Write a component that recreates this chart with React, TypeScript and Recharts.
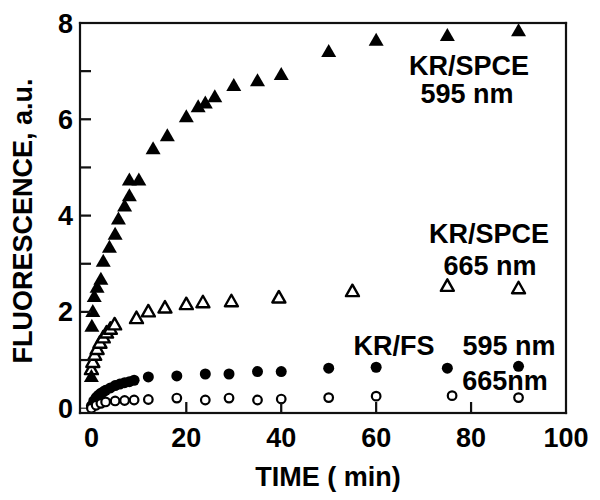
import React from 'react';
import { ScatterChart, Scatter, XAxis, YAxis } from 'recharts';

// KR/SPCE 595 nm (filled triangles)
const spce595Time = [0, 0.1, 0.3, 0.6, 1.2, 2, 2.5, 3.8, 5, 5.7, 7, 8, 8, 10, 13, 16, 20, 22.5, 24, 26, 30, 35, 40, 50, 60, 75, 90];
const spce595Fl = [0.65, 1.69, 2.0, 2.31, 2.5, 2.67, 3.04, 3.33, 3.6, 3.92, 4.19, 4.4, 4.73, 4.73, 5.38, 5.65, 6.04, 6.25, 6.33, 6.46, 6.69, 6.79, 6.92, 7.4, 7.63, 7.73, 7.83];

// KR/SPCE 665 nm (open triangles)
const spce665Time = [0, 0.3, 0.7, 1.2, 1.8, 2.5, 3.2, 4, 4.9, 9.5, 12, 15.5, 20, 23.5, 29.5, 39.5, 55, 75, 90];
const spce665Fl = [0.8, 0.95, 1.1, 1.22, 1.35, 1.46, 1.56, 1.64, 1.73, 1.86, 2.0, 2.08, 2.15, 2.19, 2.21, 2.29, 2.42, 2.53, 2.48];

// KR/FS 595 nm (filled circles)
const fs595Time = [0, 0.5, 1, 1.5, 2, 2.5, 3, 4, 5, 6, 7, 8, 9, 12, 18, 24, 29, 35, 40, 50, 60, 75, 90];
const fs595Fl = [0.05, 0.15, 0.22, 0.27, 0.31, 0.34, 0.37, 0.42, 0.47, 0.5, 0.53, 0.55, 0.58, 0.65, 0.67, 0.71, 0.71, 0.76, 0.76, 0.83, 0.85, 0.83, 0.87];

// KR/FS 665 nm (open circles)
const fs665Time = [0, 1, 2, 3, 5, 7, 9, 12, 18, 24, 29, 35, 40, 50, 60, 76, 90];
const fs665Fl = [0, 0.06, 0.1, 0.13, 0.15, 0.16, 0.17, 0.18, 0.21, 0.17, 0.21, 0.17, 0.19, 0.22, 0.25, 0.26, 0.22];

const xTicks = [0, 20, 40, 60, 80, 100];
const yTicks = [0, 1, 2, 3, 4, 5, 6, 7, 8];
const xDomain = [-2.4, 100];
const yDomain = [-0.1, 8];

const zip = (t: number[], f: number[]) => t.map((v, i) => ({ t: v, f: f[i] }));

const FONT = "'Liberation Sans', Arial, sans-serif";
const FS = 27;
const W = 600;
const H = 500;
const MARGIN = { top: 23, right: 34, bottom: 27, left: 0 };
const Y_AXIS_W = 80;
const X_AXIS_H = 60;
const LW = 2.2;

// plot box, same as what recharts lays out from the margins/axis sizes above
const plot = {
  left: MARGIN.left + Y_AXIS_W,
  top: MARGIN.top,
  width: W - MARGIN.left - MARGIN.right - Y_AXIS_W,
  height: H - MARGIN.top - MARGIN.bottom - X_AXIS_H,
};
const sx = (v: number) => plot.left + ((v - xDomain[0]) / (xDomain[1] - xDomain[0])) * plot.width;
const sy = (v: number) => plot.top + ((yDomain[1] - v) / (yDomain[1] - yDomain[0])) * plot.height;

const FilledTri = (p: any) => (
  <polygon points={`${p.cx},${p.cy - 8} ${p.cx - 7.5},${p.cy + 5} ${p.cx + 7.5},${p.cy + 5}`} fill="#000" />
);
const OpenTri = (p: any) => (
  <polygon points={`${p.cx},${p.cy - 7} ${p.cx - 6.5},${p.cy + 4.5} ${p.cx + 6.5},${p.cy + 4.5}`} fill="#fff" stroke="#000" strokeWidth={2.4} strokeLinejoin="round" />
);
const FilledDot = (p: any) => <circle cx={p.cx} cy={p.cy} r={5.5} fill="#000" />;
const OpenDot = (p: any) => <circle cx={p.cx} cy={p.cy} r={4.3} fill="#fff" stroke="#000" strokeWidth={2.2} />;

const tickStyle = { fill: '#000', fontFamily: FONT, fontWeight: 'bold', fontSize: FS };
const labelStyle = { fontFamily: FONT, fontWeight: 'bold' as const, fontSize: FS, fill: '#000' };

const bottom = plot.top + plot.height;
const right = plot.left + plot.width;

export default function App() {
  return (
    <div style={{ position: 'absolute', left: 0, top: 0, width: W, height: H, background: '#fff' }}>
      <ScatterChart width={W} height={H} margin={MARGIN}>
        <XAxis
          type="number"
          dataKey="t"
          domain={xDomain}
          ticks={xTicks}
          stroke="#000"
          tickSize={-11}
          tickMargin={26}
          height={X_AXIS_H}
          tick={tickStyle}
        />
        <YAxis
          type="number"
          dataKey="f"
          domain={yDomain}
          ticks={yTicks}
          stroke="#000"
          tickSize={-11}
          tickMargin={18}
          width={Y_AXIS_W}
          tick={tickStyle}
          tickFormatter={(v: number) => (v % 2 === 0 ? String(v) : '')}
        />
        <Scatter data={zip(fs595Time, fs595Fl)} shape={FilledDot} isAnimationActive={false} />
        <Scatter data={zip(fs665Time, fs665Fl)} shape={OpenDot} isAnimationActive={false} />
        <Scatter data={zip(spce665Time, spce665Fl)} shape={OpenTri} isAnimationActive={false} />
        <Scatter data={zip(spce595Time, spce595Fl)} shape={FilledTri} isAnimationActive={false} />
      </ScatterChart>
      <svg width={W} height={H} style={{ position: 'absolute', left: 0, top: 0, pointerEvents: 'none' }}>
        {/* frame + inward ticks drawn as thin filled bars */}
        <rect x={plot.left - LW / 2} y={plot.top - LW / 2} width={plot.width + LW} height={LW} fill="#111" />
        <rect x={plot.left - LW / 2} y={bottom - LW / 2} width={plot.width + LW} height={LW} fill="#111" />
        <rect x={plot.left - LW / 2} y={plot.top - LW / 2} width={LW} height={plot.height + LW} fill="#111" />
        <rect x={right - LW / 2} y={plot.top - LW / 2} width={LW} height={plot.height + LW} fill="#111" />
        {xTicks.filter((v) => v > 0 && v < 100).map((v) => (
          <rect key={'xt' + v} x={sx(v) - LW / 2} y={bottom - 11} width={LW} height={11} fill="#111" />
        ))}
        {yTicks.filter((v) => v > 0 && v < 8).map((v) => (
          <rect key={'yt' + v} x={plot.left} y={sy(v) - LW / 2} width={11} height={LW} fill="#111" />
        ))}
        <text x={469} y={75} textAnchor="middle" {...labelStyle}>KR/SPCE</text>
        <text x={467} y={103} textAnchor="middle" {...labelStyle}>595 nm</text>
        <text x={489} y={243} textAnchor="middle" {...labelStyle}>KR/SPCE</text>
        <text x={490} y={275} textAnchor="middle" {...labelStyle}>665 nm</text>
        <text x={394} y={355} textAnchor="middle" {...labelStyle}>KR/FS</text>
        <text x={509} y={355} textAnchor="middle" {...labelStyle}>595 nm</text>
        <text x={505} y={390} textAnchor="middle" {...labelStyle}>665nm</text>
        <text x={328} y={486} textAnchor="middle" {...labelStyle}>TIME ( min)</text>
        <text x={32} y={221} textAnchor="middle" transform="rotate(-90 32 221)" {...labelStyle}>
          FLUORESCENCE, a.u.
        </text>
      </svg>
    </div>
  );
}
